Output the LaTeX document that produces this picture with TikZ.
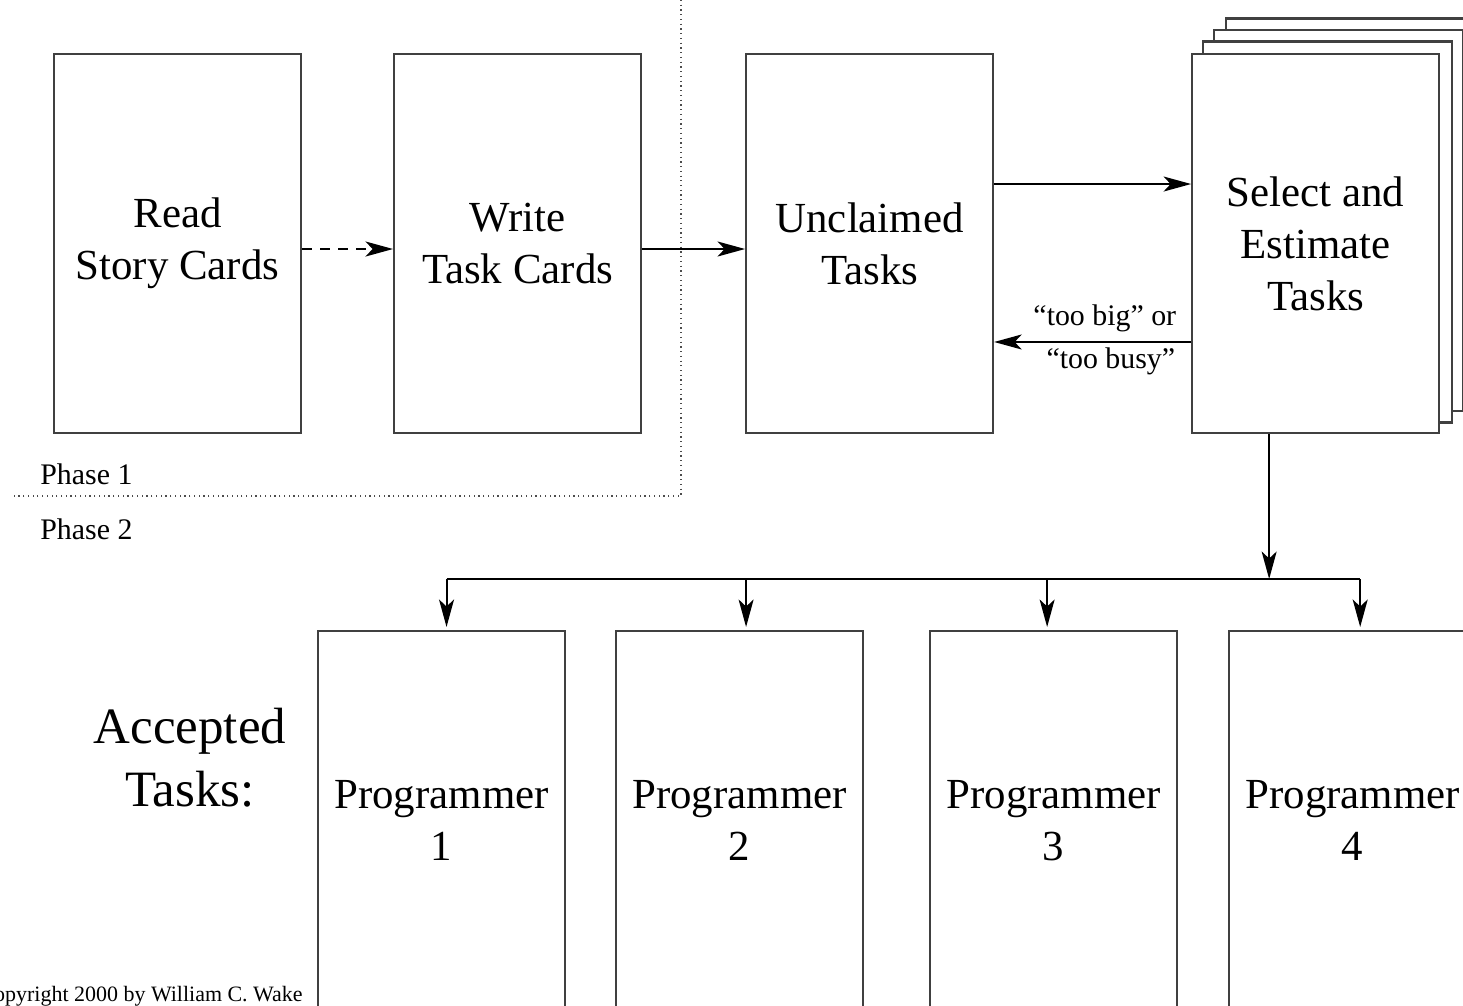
\documentclass[tikz,border=0pt]{standalone}
\usepackage{fontspec}
\setmainfont{Liberation Serif}
\usetikzlibrary{positioning,arrows.meta,backgrounds}

\begin{document}
\begin{tikzpicture}[x=0.02cm, y=-0.02cm, node distance=1cm,
  card/.style={rectangle, draw=black!75, line width=1.2pt, fill=white, minimum width=4.94cm, minimum height=7.58cm, inner sep=0pt, align=center, font=\fontsize{24.4}{29.5}\selectfont},
  backcard/.style={draw=black!75, line width=1.2pt, fill=white},
  flow/.style={line width=1.1pt, -{Stealth[length=0.55cm, width=0.3cm, inset=0.14cm]}},
  wire/.style={line width=1pt},
  phaseline/.style={black!70, line width=0.7pt, dotted},
  tag/.style={inner sep=0pt, font=\fontsize{17}{20}\selectfont}]

\useasboundingbox (0,0) rectangle (1463,1006);

% phase 1 cards
\node (read) [card, anchor=north west] at (53,53) {Read\\Story Cards};
\node (write) [card, right=1.82cm of read] {Write\\Task Cards};

% phase 2 cards
\node (unclaimed) [card, right=2.06cm of write] {Unclaimed\\Tasks};
\node (select) [card, right=3.94cm of unclaimed] {Select and\\Estimate\\Tasks};
\begin{scope}[on background layer]
  \foreach \k in {3,2,1}
    \draw[backcard] ([shift={(\k*11.5,-\k*11.5)}]select.south west) rectangle ([shift={(\k*11.5,-\k*11.5)}]select.north east);
\end{scope}

\node (prog1) [card, anchor=north west] at (317,630) {Programmer\\1};
\node (prog2) [card, right=0.98cm of prog1] {Programmer\\2};
\node (prog3) [card, right=1.3cm of prog2] {Programmer\\3};
\node (prog4) [card, right=1cm of prog3] {Programmer\\4};

\node (accepted) [align=center, font=\fontsize{29}{35.7}\selectfont] at (190,758) {Accepted\\Tasks:};

% phase boundary
\draw[phaseline] (681,0) |- (14,496);
\node (phase1) [tag, anchor=base west] at (40,484) {Phase 1};
\node (phase2) [tag, anchor=base west] at (40,539) {Phase 2};

% arrows
\draw[flow, dash pattern=on 0.2cm off 0.16cm] ([yshift=-0.11cm]read.east) -- ([yshift=-0.11cm]write.west);
\draw[flow] ([yshift=-0.11cm]write.east) -- ([yshift=-0.11cm]unclaimed.west);
\draw[flow] ([yshift=1.19cm]unclaimed.east) -- ([yshift=1.19cm]select.west);
\draw[flow] ([yshift=-1.97cm]select.west) -- ([yshift=-1.97cm]unclaimed.east)
  node[tag, at start, anchor=south east, xshift=-0.28cm, yshift=0.18cm] {“too big” or}
  node[tag, at start, anchor=north east, xshift=-0.3cm, yshift=-0.1cm] {“too busy”};

\coordinate (split) at ([xshift=-0.93cm, yshift=-2.9cm]select.south);
\draw[flow] ([xshift=-0.93cm]select.south) -- (split);
\draw[wire] ([xshift=0.1cm]split -| prog1.north) -- ([xshift=0.15cm]split -| prog4.north);
\foreach \p/\dx in {prog1/0.1, prog2/0.13, prog3/-0.13, prog4/0.15}
  \draw[flow] ([xshift=\dx cm]split -| \p.north) -- ([xshift=\dx cm, yshift=0.06cm]\p.north);

\node (copyright) [anchor=base east, inner sep=0pt, font=\fontsize{12.5}{15}\selectfont] at (303,1001) {Copyright 2000 by William C. Wake};

\end{tikzpicture}
\end{document}
